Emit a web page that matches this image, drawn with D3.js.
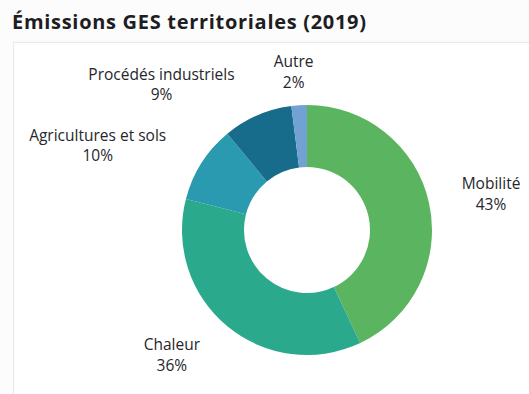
<!DOCTYPE html>
<html lang="fr">
<head>
<meta charset="utf-8">
<script src="https://cdn.jsdelivr.net/npm/d3@7/dist/d3.min.js"></script>
<style>
  html, body { margin: 0; padding: 0; background: #fcfcfd; }
  svg { display: block; }
</style>
</head>
<body>
<svg id="chart" width="529" height="394"></svg>
<script>
// Répartition des émissions de GES territoriales, 2019 (en %)
const categories = ["Mobilité", "Chaleur", "Agricultures et sols", "Procédés industriels", "Autre"];
const shares = [43, 36, 10, 9, 2];
const colors = ["#5bb45f", "#2ba98d", "#2a9ab0", "#176c8b", "#72a1d3"];
const title = "Émissions GES territoriales (2019)";

// label nudges (px) applied after the radial placement
const labelNudge = {
  "Mobilité": [23, -1],
  "Chaleur": [-30, -3],
  "Agricultures et sols": [-70, 3],
  "Procédés industriels": [-80, 5],
  "Autre": [-3, 6]
};

const W = 529, H = 394;
const cx = 307, cy = 230, outerR = 125, innerR = 63;

const svg = d3.select("#chart");

// panel frame
svg.append("rect")
  .attr("x", 13.5).attr("y", 42.5)
  .attr("width", W + 10).attr("height", H)
  .attr("fill", "#ffffff")
  .attr("stroke", "#e9e9ee")
  .attr("stroke-width", 1.2);

svg.append("text")
  .attr("x", 12).attr("y", 29)
  .attr("font-family", "'Open Sans', sans-serif")
  .attr("font-weight", 700)
  .attr("font-size", 20)
  .attr("letter-spacing", 0.7)
  .attr("fill", "#1d1d22")
  .text(title);

const data = categories.map((c, i) => ({ name: c, value: shares[i], color: colors[i] }));

const pie = d3.pie().value(d => d.value).sort(null);
const arc = d3.arc().innerRadius(innerR).outerRadius(outerR);
const arcs = pie(data);

const g = svg.append("g").attr("transform", `translate(${cx},${cy})`);

g.selectAll("path.slice")
  .data(arcs)
  .join("path")
  .attr("class", "slice")
  .attr("d", arc)
  .attr("fill", d => d.data.color);

// labels: two centred lines placed outside the ring along each slice's mid-angle
const labelR = 165;
const lab = g.selectAll("g.label")
  .data(arcs)
  .join("g")
  .attr("class", "label")
  .attr("transform", d => {
    const a = (d.startAngle + d.endAngle) / 2;
    const n = labelNudge[d.data.name] || [0, 0];
    const x = Math.sin(a) * labelR + n[0];
    const y = -Math.cos(a) * labelR + n[1];
    return `translate(${x},${y})`;
  });

lab.append("text")
  .attr("text-anchor", "middle")
  .attr("font-family", "'Open Sans', sans-serif")
  .attr("font-size", 15.5)
  .attr("fill", "#26262b")
  .selectAll("tspan")
  .data(d => [d.data.name, d3.format(".0f")(d.data.value) + "%"])
  .join("tspan")
  .attr("x", 0)
  .attr("y", (t, i) => i === 0 ? -4 : 16.5)
  .text(t => t);
</script>
</body>
</html>
